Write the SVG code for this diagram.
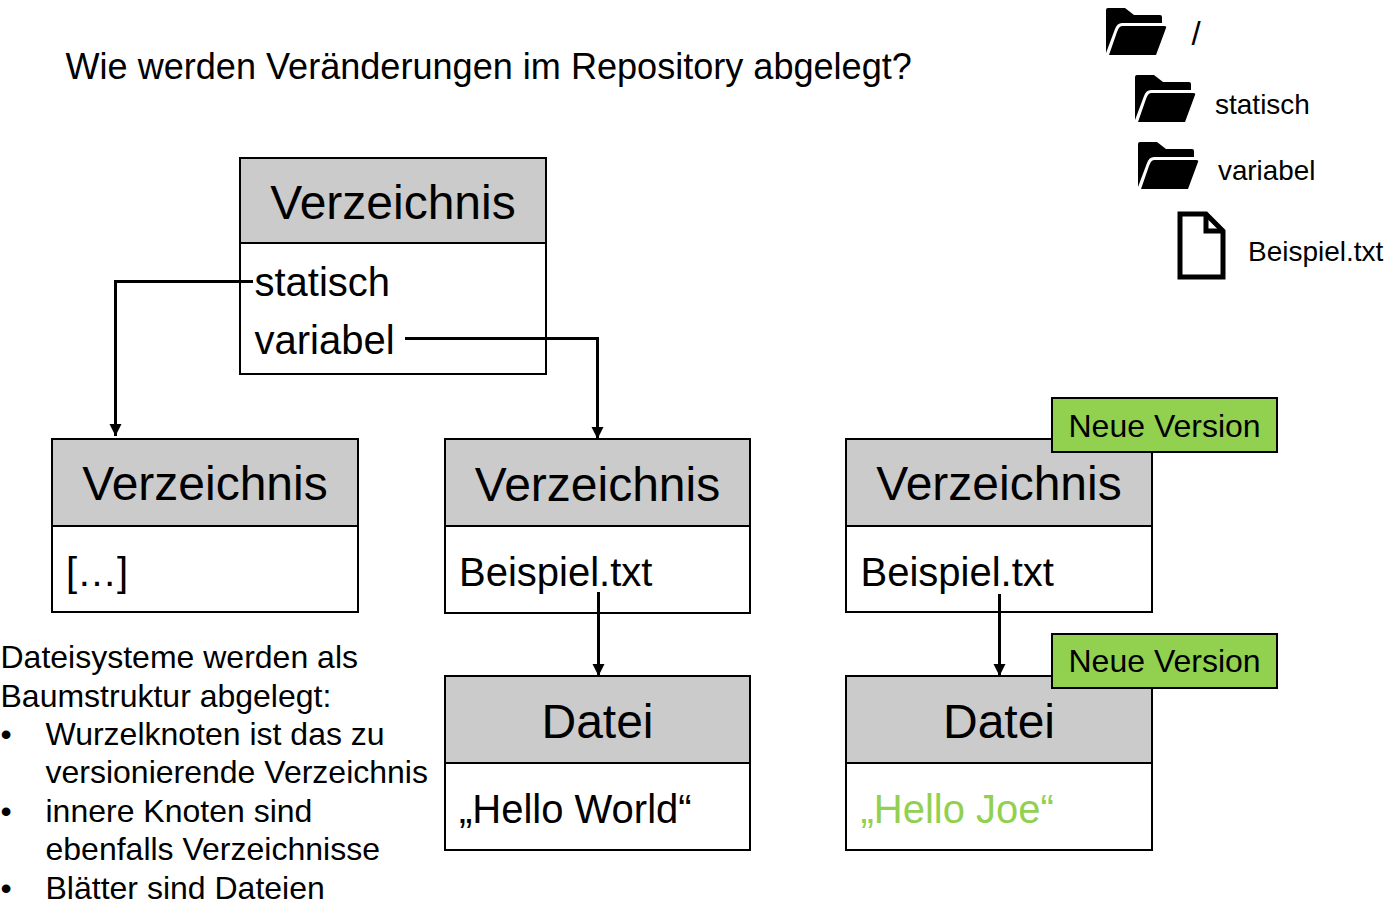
<svg xmlns="http://www.w3.org/2000/svg" width="1385" height="900" viewBox="0 0 1385 900">
<style>
text{font-family:"Liberation Sans",Arial,sans-serif;fill:#000}
.box{fill:#fff;stroke:#000;stroke-width:2}
.head{fill:#cbcbcb;stroke:#000;stroke-width:2}
.t48{font-size:48px;text-anchor:middle}
.t40{font-size:40px}
.tag{fill:#92d050;stroke:#000;stroke-width:2}
.t33{font-size:32px}
.t28{font-size:28px}
.t32{font-size:32px}
.conn{fill:none;stroke:#000;stroke-width:3;marker-end:url(#arr)}
</style>
<defs>
<marker id="arr" markerUnits="userSpaceOnUse" markerWidth="14" markerHeight="14" refX="12" refY="6.500" orient="auto"><path d="M0,0.500L12,6.500L0,12.500z" fill="#000"/></marker>
<g id="folder"><path d="M0,2Q0,0 2,0H19L28,7H54Q56,7 56,9V15H16Q11,15 9,21L0,45Z" fill="#000"/><path d="M16,18H58Q61,18 60,20L50,47H3L11,24Q13,18 16,18Z" fill="#000"/></g>
</defs>
<text id="title" x="65.500" y="79" style="font-size:36.080px">Wie werden Veränderungen im Repository abgelegt?</text>
<g id="tree">
<use href="#folder" x="1106" y="8"/><text x="1191.500" y="45" style="font-size:33px">/</text>
<use href="#folder" x="1135" y="75"/><text x="1215" y="114" class="t28">statisch</text>
<use href="#folder" x="1138" y="142"/><text x="1218" y="180" style="font-size:27.800px">variabel</text>
<g id="file-icon"><path d="M1180,214H1206L1223,231V277H1180Z" fill="#fff" stroke="#000" stroke-width="5"/><path d="M1206,214V231H1223" fill="none" stroke="#000" stroke-width="5"/></g>
<text x="1248" y="261" class="t28">Beispiel.txt</text>
</g>
<g id="node-root"><rect class="box" x="240" y="158" width="306" height="216"/><rect class="head" x="240" y="158" width="306" height="85"/><text class="t48" x="393" y="219">Verzeichnis</text><text class="t40" x="254.500" y="296">statisch</text><text class="t40" x="254.500" y="354">variabel</text></g>
<g id="node-static"><rect class="box" x="52" y="439" width="306" height="173"/><rect class="head" x="52" y="439" width="306" height="87"/><text class="t48" x="205" y="500">Verzeichnis</text><text class="t40" x="66" y="586">[…]</text></g>
<g id="node-var"><rect class="box" x="445" y="439" width="305" height="174"/><rect class="head" x="445" y="439" width="305" height="87"/><text class="t48" x="597.500" y="501">Verzeichnis</text><text class="t40" x="459" y="586">Beispiel.txt</text></g>
<g id="node-file"><rect class="box" x="445" y="676" width="305" height="174"/><rect class="head" x="445" y="676" width="305" height="87"/><text class="t48" x="597.500" y="738">Datei</text><text class="t40" x="459" y="823">„Hello World“</text></g>
<g id="node-var2"><rect class="box" x="846" y="439" width="306" height="173"/><rect class="head" x="846" y="439" width="306" height="87"/><text class="t48" x="999" y="500">Verzeichnis</text><text class="t40" x="860.500" y="586">Beispiel.txt</text></g>
<g id="node-file2"><rect class="box" x="846" y="676" width="306" height="174"/><rect class="head" x="846" y="676" width="306" height="87"/><text class="t48" x="999" y="738">Datei</text><text class="t40" x="860.500" y="823" style="fill:#92d050">„Hello Joe“</text></g>
<g id="connectors">
<path class="conn" d="M253,281.500H115.500V436"/>
<path class="conn" d="M405,338.500H597.500V439"/>
<path class="conn" d="M598.500,592V676"/>
<path class="conn" d="M999.500,594V676"/>
</g>
<g id="tag1"><rect class="tag" x="1052" y="398" width="225" height="54"/><text class="t33" x="1068.500" y="437">Neue Version</text></g>
<g id="tag2"><rect class="tag" x="1052" y="634" width="225" height="54"/><text class="t33" x="1068.500" y="672">Neue Version</text></g>
<g id="notes">
<text class="t32" x="0.500" y="668">Dateisysteme werden als</text>
<text class="t32" x="0.500" y="707">Baumstruktur abgelegt:</text>
<text class="t32" x="0.500" y="745">•</text><text class="t32" x="45.500" y="745">Wurzelknoten ist das zu</text>
<text class="t32" x="45.500" y="783">versionierende Verzeichnis</text>
<text class="t32" x="0.500" y="822">•</text><text class="t32" x="45.500" y="822">innere Knoten sind</text>
<text class="t32" x="45.500" y="860">ebenfalls Verzeichnisse</text>
<text class="t32" x="0.500" y="899">•</text><text class="t32" x="45.500" y="899">Blätter sind Dateien</text>
</g>
</svg>
